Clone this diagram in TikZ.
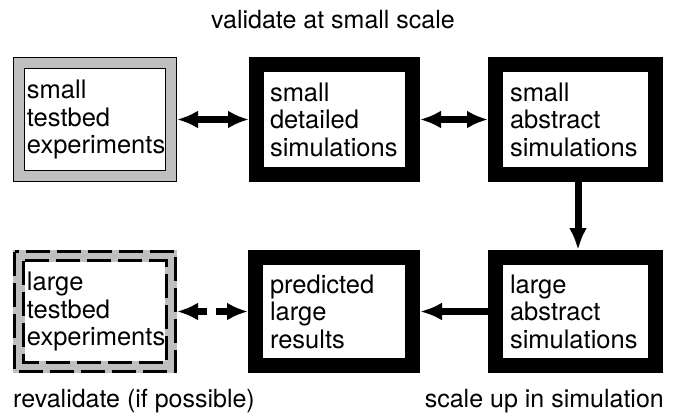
\documentclass[tikz,border=0pt]{standalone}
\usepackage{fontspec}
\setmainfont{TeX Gyre Heros}
\usetikzlibrary{arrows.meta}
\begin{document}
\begin{tikzpicture}[x=1pt,y=-1pt,
  boxtext/.style={font=\fontsize{25.5}{27.5}\selectfont, align=left, inner sep=0pt},
  blackbox/.style={boxtext, draw=black, line width=15pt, fill=white, outer sep=7.5pt},
  greybox/.style={boxtext, draw=black, double=gray!50, double distance=10pt, line width=1pt, fill=white, outer sep=6pt},
  greyband/.style={boxtext, draw=gray!50, line width=12pt, fill=white, outer sep=6pt},
  dashedge/.style={draw=black, line width=3pt, dash pattern=on 24pt off 7pt},
  lab/.style={font=\fontsize{25}{27}\selectfont, inner sep=0pt},
  arr/.style={line width=7pt, -{Latex[length=22pt,width=18pt]}},
  darr/.style={line width=7pt, {Latex[length=21pt,width=18pt]}-{Latex[length=21pt,width=18pt]}},
]
\useasboundingbox (0,0) rectangle (675,417);
\fill[white] (0,0) rectangle (675,417);

% top row
\node[greybox, minimum width=152pt, minimum height=113pt, text width=136pt] (b1) at (95,119.5)
  {small\\testbed\\experiments};
\node[blackbox, minimum width=156pt, minimum height=110pt, text width=129pt] (b2) at (334.5,119.5)
  {small\\detailed\\simulations};
\node[blackbox, minimum width=160pt, minimum height=110pt, text width=131pt] (b3) at (575.5,119.5)
  {small\\abstract\\simulations};

% bottom row
\node[greyband, minimum width=152pt, minimum height=111pt, text width=136pt] (b4) at (95,311.5)
  {large\\testbed\\experiments};
\draw[dashedge] ([xshift=1.5pt,yshift=-1.5pt]b4.north west) rectangle ([xshift=-1.5pt,yshift=1.5pt]b4.south east);
\draw[dashedge] ([xshift=10.5pt,yshift=-10.5pt]b4.north west) rectangle ([xshift=-10.5pt,yshift=10.5pt]b4.south east);
\node[blackbox, minimum width=157pt, minimum height=108pt, text width=128pt] (b5) at (334,311.5)
  {predicted\\large\\results};
\node[blackbox, minimum width=160pt, minimum height=108pt, text width=131pt] (b6) at (575.5,311.5)
  {large\\abstract\\simulations};

% connectors
\draw[darr] (b1) -- (b2);
\draw[darr] (b2) -- (b3);
\draw[arr] ([xshift=2.5pt]b3.south) -- ([xshift=2.5pt]b6.north);
\draw[arr] (b6) -- (b5);
\draw[darr, dash pattern=on 11pt off 9pt] (b4) -- (b5);

% labels
\node[lab, anchor=base] (l1) at (333,29) {validate at small scale};
\node[lab, anchor=base west] (l2) at (13,407) {revalidate (if possible)};
\node[lab, anchor=base east] (l3) at (664,407) {scale up in simulation};
\end{tikzpicture}
\end{document}
